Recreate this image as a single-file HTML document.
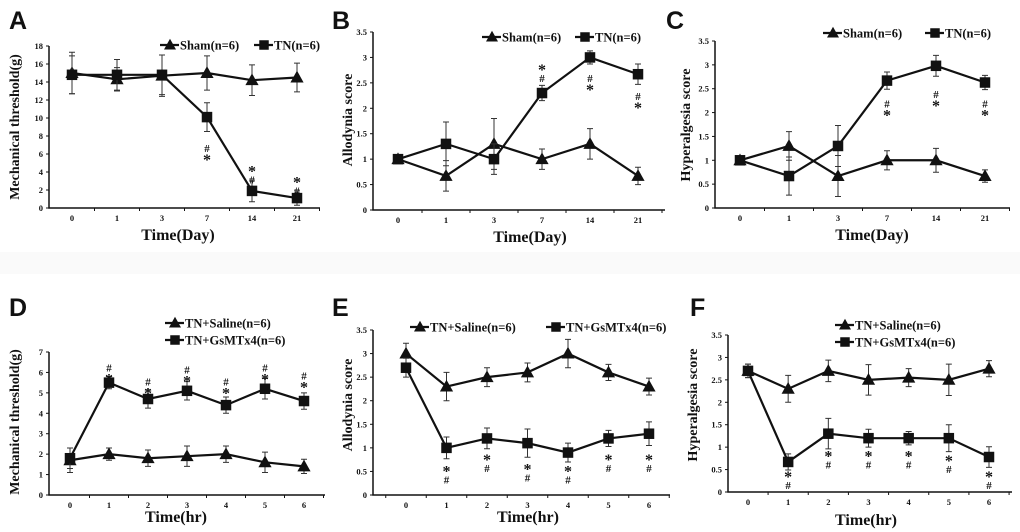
<!DOCTYPE html>
<html><head><meta charset="utf-8">
<style>
html,body{margin:0;padding:0;background:#fff;}
svg{display:block;}
text{font-family:"Liberation Serif",serif;font-weight:bold;fill:#111;}
.pl{font-family:"Liberation Sans",sans-serif;font-size:25px;}
</style></head>
<body>
<svg id="fig" width="1020" height="532" viewBox="0 0 1020 532" xmlns="http://www.w3.org/2000/svg">
<rect x="0" y="252" width="1020" height="22" fill="#fafafa"/>
</svg>
<script>
// ---- data ----
const daysCats = ['0','1','3','7','14','21'];
const hrCats = ['0','1','2','3','4','5','6'];
const A_sham = [15,14.3,14.7,15,14.2,14.5];
const A_shamErr = [2.3,1.3,2.3,1.9,1.7,1.6];
const A_tn = [14.8,14.8,14.8,10.1,1.9,1.1];
const A_tnErr = [2.1,1.7,2.2,1.6,1.2,0.8];
const B_sham = [1,0.67,1.3,1,1.3,0.67];
const B_shamErr = [0,0.3,0.5,0.2,0.3,0.17];
const B_tn = [1,1.3,1,2.3,3,2.67];
const B_tnErr = [0,0.43,0.3,0.15,0.13,0.2];
const C_sham = [1,1.3,0.67,1,1,0.67];
const C_shamErr = [0,0.3,0.43,0.2,0.25,0.13];
const C_tn = [1,0.67,1.3,2.67,2.98,2.63];
const C_tnErr = [0,0.4,0.43,0.18,0.22,0.15];
const D_sal = [1.7,2,1.8,1.9,2,1.6,1.4];
const D_salErr = [0.6,0.3,0.4,0.5,0.4,0.5,0.35];
const D_gs = [1.8,5.5,4.7,5.1,4.4,5.2,4.6];
const D_gsErr = [0.5,0.3,0.45,0.45,0.4,0.5,0.4];
const E_sal = [3,2.3,2.5,2.6,3,2.6,2.3];
const E_salErr = [0.22,0.3,0.2,0.2,0.3,0.17,0.18];
const E_gs = [2.7,1,1.2,1.1,0.9,1.2,1.3];
const E_gsErr = [0.2,0.23,0.22,0.3,0.2,0.17,0.25];
const F_sal = [2.7,2.3,2.7,2.5,2.55,2.5,2.75];
const F_salErr = [0.15,0.3,0.24,0.34,0.2,0.35,0.18];
const F_gs = [2.7,0.67,1.3,1.2,1.2,1.2,0.78];
const F_gsErr = [0.15,0.18,0.34,0.2,0.15,0.3,0.23];
const ticks18 = ['0','2','4','6','8','10','12','14','16','18'];
const ticks35 = ['0','0.5','1','1.5','2','2.5','3','3.5'];
const ticks7 = ['0','1','2','3','4','5','6','7'];
// significance marks: [index, topValue, symbols]
const A_sig = [[3,7,'#*'],[4,4.6,'*#'],[5,3.4,'*#']];
const B_sig = [[3,2.85,'*#'],[4,2.65,'#*'],[5,2.3,'#*']];
const C_sig = [[3,2.25,'#*'],[4,2.45,'#*'],[5,2.25,'#*']];
const D_sig = [[1,6.4,'#*'],[2,5.7,'#*'],[3,6.3,'#*'],[4,5.7,'#*'],[5,6.4,'#*'],[6,6.0,'#*']];
const E_sig = [[1,0.6,'*#'],[2,0.85,'*#'],[3,0.65,'*#'],[4,0.6,'*#'],[5,0.85,'*#'],[6,0.85,'*#']];
const F_sig = [[1,0.45,'*#'],[2,0.9,'*#'],[3,0.9,'*#'],[4,0.9,'*#'],[5,0.8,'*#'],[6,0.45,'*#']];

const NS='http://www.w3.org/2000/svg';
const fig=document.getElementById('fig');
function el(tag,attrs,parent,txt){const e=document.createElementNS(NS,tag);for(const k in attrs)e.setAttribute(k,attrs[k]);if(txt!==undefined)e.textContent=txt;(parent||fig).appendChild(e);return e;}
function tri(g,x,y,s){return el('polygon',{points:`${x},${y-s*0.62} ${x-s*0.6},${y+s*0.45} ${x+s*0.6},${y+s*0.45}`,fill:'#111'},g);}
function sq(g,x,y,s){return el('rect',{x:x-s/2,y:y-s/2,width:s,height:s,fill:'#111'},g);}

function panel(p){
  const g=el('g',{});
  
  
  const n=p.cats.length;
  const ymax=parseFloat(p.ticks[p.ticks.length-1]);
  const sy=v=>p.y0-(v/ymax)*(p.y0-p.yt);
  const sx=i=>p.c0+i*(p.c1-p.c0)/(n-1);
  const lt=el('text',{x:p.lx,y:p.ly,class:'pl'},g,p.id);
  
  
  const ax=el('path',{d:`M${p.ax},${p.yt} V${p.y0} H${p.right}`,stroke:'#111','stroke-width':1.5,fill:'none'},g);
  
  
  p.ticks.forEach((t,i)=>{
    const y=sy(parseFloat(t));
    el('line',{x1:p.ax-3,x2:p.ax,y1:y,y2:y,stroke:'#111','stroke-width':1},g);
    const tt=el('text',{x:p.ax-6,y:y+3,'font-size':8.5,'text-anchor':'end'},g,t);
    
    
  });
  const step=(p.c1-p.c0)/(n-1);
  for(let i=0;i<=n;i++){const x=sx(i)-step/2;if(x>p.ax+2&&x<p.right)el('line',{x1:x,x2:x,y1:p.y0,y2:p.y0+3,stroke:'#111','stroke-width':1},g);}
  p.cats.forEach((c,i)=>{
    const t=el('text',{x:sx(i),y:p.y0+13,'font-size':8.5,'text-anchor':'middle'},g,c);
    
    
  });
  const xt=el('text',{x:p.xtX,y:p.xtY,'font-size':16,'text-anchor':'middle'},g,p.xTitle);
  
  
  const yt=el('text',{x:0,y:0,'font-size':14,'text-anchor':'middle',transform:`translate(${p.ytX},${p.ytY}) rotate(-90)`},g,p.yTitle);
  
  
  p.series.forEach((s,si)=>{
    const sg=el('g',{},g);
    
    
    s.vals.forEach((v,i)=>{
      const e=s.err[i];if(!e)return;
      const x=sx(i);
      el('path',{d:`M${x},${sy(v+e)} V${sy(v-e)} M${x-3},${sy(v+e)} H${x+3} M${x-3},${sy(v-e)} H${x+3}`,stroke:'#333','stroke-width':1,fill:'none'},sg);
    });
    const pts=s.vals.map((v,i)=>`${sx(i)},${sy(v)}`).join(' ');
    el('polyline',{points:pts,fill:'none',stroke:'#111','stroke-width':2.2},sg);
    s.vals.forEach((v,i)=>{
      const m=s.shape==='tri'?tri(sg,sx(i),sy(v),11):sq(sg,sx(i),sy(v),10.5);
      
      
    });
  });
  p.sig.forEach(([i,v,sym])=>{
    sym.split('').forEach((c,k)=>{
      const t=el('text',{x:sx(i),y:sy(v)+(c==='*'?10:7)+k*10,'font-size':c==='*'?16:11,'text-anchor':'middle','font-family':'Liberation Sans,sans-serif'},g,c);
      
      
    });
  });
  p.legend.forEach((L,k)=>{
    const lg=el('g',{},g);
    
    
    el('line',{x1:L[0],x2:L[0]+19,y1:L[1],y2:L[1],stroke:'#111','stroke-width':2.2},lg);
    if(p.series[k].shape==='tri')tri(lg,L[0]+10,L[1],10);else sq(lg,L[0]+10,L[1],9.5);
    el('text',{x:L[0]+20,y:L[1]+4.5,'font-size':12.5},lg,L[2]);
  });
}

panel({id:'A',lx:9,ly:29,ax:49,yt:46,y0:208,right:320,c0:72,c1:297,cats:daysCats,ticks:ticks18,
  xTitle:'Time(Day)',xtX:178,xtY:240,yTitle:'Mechanical threshold(g)',ytX:19,ytY:127,
  series:[{key:'sham',shape:'tri',vals:A_sham,err:A_shamErr},{key:'tn',shape:'sq',vals:A_tn,err:A_tnErr}],
  sig:A_sig,legend:[[160,45,'Sham(n=6)'],[254,45,'TN(n=6)']]});
panel({id:'B',lx:332,ly:29,ax:373,yt:32,y0:210,right:665,c0:398,c1:638,cats:daysCats,ticks:ticks35,
  xTitle:'Time(Day)',xtX:530,xtY:242,yTitle:'Allodynia score',ytX:352,ytY:120,
  series:[{key:'sham',shape:'tri',vals:B_sham,err:B_shamErr},{key:'tn',shape:'sq',vals:B_tn,err:B_tnErr}],
  sig:B_sig,legend:[[482,37,'Sham(n=6)'],[575,37,'TN(n=6)']]});
panel({id:'C',lx:666,ly:29,ax:715,yt:41,y0:208,right:1010,c0:740,c1:985,cats:daysCats,ticks:ticks35,
  xTitle:'Time(Day)',xtX:872,xtY:240,yTitle:'Hyperalgesia score',ytX:690,ytY:125,
  series:[{key:'sham',shape:'tri',vals:C_sham,err:C_shamErr},{key:'tn',shape:'sq',vals:C_tn,err:C_tnErr}],
  sig:C_sig,legend:[[823,33,'Sham(n=6)'],[925,33,'TN(n=6)']]});
panel({id:'D',lx:9,ly:316,ax:49,yt:352,y0:495,right:325,c0:70,c1:304,cats:hrCats,ticks:ticks7,
  xTitle:'Time(hr)',xtX:176,xtY:522,yTitle:'Mechanical threshold(g)',ytX:19,ytY:422,
  series:[{key:'saline',shape:'tri',vals:D_sal,err:D_salErr},{key:'gsmtx4',shape:'sq',vals:D_gs,err:D_gsErr}],
  sig:D_sig,legend:[[165,323,'TN+Saline(n=6)'],[165,340,'TN+GsMTx4(n=6)']]});
panel({id:'E',lx:332,ly:316,ax:373,yt:330,y0:495,right:670,c0:406,c1:649,cats:hrCats,ticks:ticks35,
  xTitle:'Time(hr)',xtX:528,xtY:522,yTitle:'Allodynia score',ytX:352,ytY:405,
  series:[{key:'saline',shape:'tri',vals:E_sal,err:E_salErr},{key:'gsmtx4',shape:'sq',vals:E_gs,err:E_gsErr}],
  sig:E_sig,legend:[[410,327,'TN+Saline(n=6)'],[546,327,'TN+GsMTx4(n=6)']]});
panel({id:'F',lx:690,ly:316,ax:728,yt:335,y0:492,right:1012,c0:748,c1:989,cats:hrCats,ticks:ticks35,
  xTitle:'Time(hr)',xtX:866,xtY:525,yTitle:'Hyperalgesia score',ytX:697,ytY:405,
  series:[{key:'saline',shape:'tri',vals:F_sal,err:F_salErr},{key:'gsmtx4',shape:'sq',vals:F_gs,err:F_gsErr}],
  sig:F_sig,legend:[[835,325,'TN+Saline(n=6)'],[835,342,'TN+GsMTx4(n=6)']]});
</script>
</body></html>
